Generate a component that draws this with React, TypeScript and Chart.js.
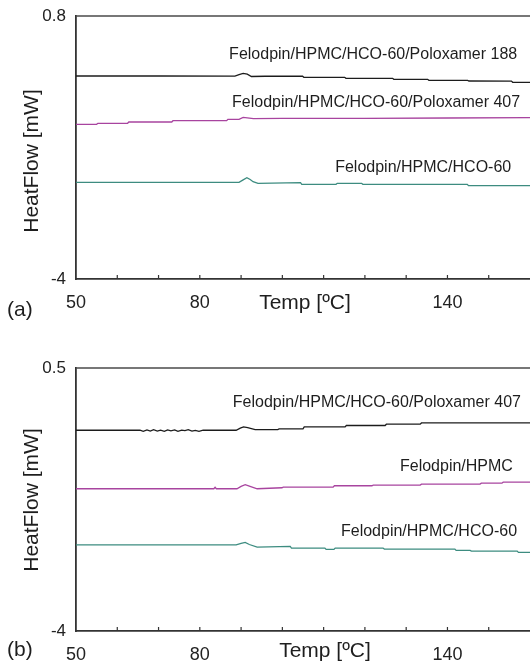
import React, { useEffect, useRef } from 'react';
import { Chart, registerables } from 'chart.js';
Chart.register(...registerables);

const FONT = '"Liberation Sans", Arial, Helvetica, sans-serif';

// ---------- Panel (a) ----------
const tempA188 = [50, 70, 88.5, 89.5, 90.5, 91.5, 92.5, 95.8, 104.9, 105.2, 115.1, 115.4, 126.7, 127, 135.2, 135.5, 144.9, 145.2, 155.5, 155.8, 160];
const flowA188 = [-0.295, -0.295, -0.296, -0.27, -0.249, -0.262, -0.304, -0.3, -0.3, -0.319, -0.319, -0.337, -0.337, -0.355, -0.355, -0.373, -0.375, -0.386, -0.388, -0.41, -0.41];

const tempA407 = [50, 55, 55.3, 62.5, 62.8, 73.2, 73.5, 86.5, 86.8, 89.5, 90.5, 91.5, 93, 100, 120, 140, 160];
const flowA407 = [-1.177, -1.177, -1.158, -1.158, -1.135, -1.135, -1.111, -1.111, -1.085, -1.085, -1.049, -1.06, -1.074, -1.07, -1.067, -1.062, -1.056];

const tempAHco = [50, 89.5, 90.5, 91.4, 92.2, 92.9, 94.1, 104.4, 104.7, 113, 113.3, 119.2, 119.5, 144.8, 145.1, 160];
const flowAHco = [-2.235, -2.235, -2.19, -2.151, -2.185, -2.224, -2.253, -2.242, -2.272, -2.272, -2.253, -2.253, -2.272, -2.272, -2.297, -2.297];

// ---------- Panel (b) ----------
const tempB407 = [50, 65.5, 66.3, 67.2, 68, 68.8, 69.7, 70.5, 71.4, 72.2, 73, 73.9, 74.7, 75.6, 76.4, 77.2, 78.1, 78.9, 79.8, 80.8, 88.8, 89.8, 90.6, 91.6, 93.4, 98.9, 99.2, 105, 105.3, 115.2, 115.5, 124.9, 125.2, 133.4, 133.7, 160];
const flowB407 = [-0.565, -0.565, -0.585, -0.56, -0.58, -0.555, -0.578, -0.562, -0.583, -0.558, -0.575, -0.56, -0.585, -0.563, -0.572, -0.556, -0.58, -0.566, -0.584, -0.565, -0.565, -0.53, -0.508, -0.52, -0.553, -0.553, -0.543, -0.543, -0.508, -0.508, -0.484, -0.484, -0.462, -0.462, -0.44, -0.44];

const tempBHpmc = [50, 83.4, 83.7, 84, 89, 90, 91, 92, 93.9, 99.9, 100.2, 112.3, 112.6, 121.7, 122, 133.4, 133.7, 147.9, 148.2, 153.2, 153.5, 160];
const flowBHpmc = [-1.566, -1.566, -1.54, -1.566, -1.566, -1.525, -1.497, -1.52, -1.566, -1.549, -1.538, -1.538, -1.515, -1.515, -1.504, -1.504, -1.487, -1.487, -1.47, -1.47, -1.453, -1.453];

const tempBHco = [50, 88.8, 90, 91, 92, 93.9, 101.9, 102.2, 110.3, 110.6, 112.5, 112.8, 124.4, 124.7, 141.8, 142.1, 145.5, 145.8, 156.9, 157.2, 160];
const flowBHco = [-2.528, -2.528, -2.5, -2.484, -2.52, -2.564, -2.552, -2.581, -2.581, -2.603, -2.603, -2.581, -2.581, -2.598, -2.598, -2.62, -2.62, -2.632, -2.632, -2.655, -2.655];

const labeledTicks = [50, 80, 140];
const xRange = [50, 160];
const yRangeA = [-4, 0.8];
const yRangeB = [-4, 0.5];

const namesA = ['Felodpin/HPMC/HCO-60/Poloxamer 188', 'Felodpin/HPMC/HCO-60/Poloxamer 407', 'Felodpin/HPMC/HCO-60'];
const namesB = ['Felodpin/HPMC/HCO-60/Poloxamer 407', 'Felodpin/HPMC', 'Felodpin/HPMC/HCO-60'];

const COLORS = ['#1c1c1c', '#a8449f', '#3d8c80'];

const pts = (xs: number[], ys: number[]) => xs.map((x, i) => ({ x, y: ys[i] }));

type PanelCfg = {
  height: number;
  top: number;
  yRange: number[];
  series: { t: number[]; v: number[] }[];
  names: string[];
  notes: { x: number; y: number }[];
  yTitle: [number, number];
  xTitle: [number, number];
  panelLabel: string;
  panelPos: [number, number];
};

const panelA: PanelCfg = {
  height: 331,
  top: 16,
  yRange: yRangeA,
  series: [
    { t: tempA188, v: flowA188 },
    { t: tempA407, v: flowA407 },
    { t: tempAHco, v: flowAHco },
  ],
  names: namesA,
  notes: [
    { x: 87.1, y: 0.088 },
    { x: 87.8, y: -0.788 },
    { x: 112.8, y: -1.974 },
  ],
  yTitle: [32, 161],
  xTitle: [305, 303],
  panelLabel: '(a)',
  panelPos: [7, 310],
};

const panelB: PanelCfg = {
  height: 331,
  top: 37,
  yRange: yRangeB,
  series: [
    { t: tempB407, v: flowB407 },
    { t: tempBHpmc, v: flowBHpmc },
    { t: tempBHco, v: flowBHco },
  ],
  names: namesB,
  notes: [
    { x: 88.0, y: -0.084 },
    { x: 128.5, y: -1.183 },
    { x: 114.2, y: -2.3 },
  ],
  yTitle: [32, 169],
  xTitle: [325, 320],
  panelLabel: '(b)',
  panelPos: [7, 319],
};

function makeDecor(cfg: PanelCfg) {
  return {
    id: 'decor',
    afterDraw(chart: any) {
      const { ctx, chartArea } = chart;
      const x = chart.scales.x;
      const y = chart.scales.y;
      ctx.save();
      ctx.strokeStyle = '#4a4a4a';
      ctx.lineWidth = 1.5;
      ctx.beginPath();
      ctx.moveTo(chartArea.left, chartArea.top);
      ctx.lineTo(chartArea.right, chartArea.top);
      ctx.stroke();
      ctx.strokeStyle = '#333';
      ctx.lineWidth = 1.2;
      ctx.beginPath();
      x.ticks.forEach((t: any) => {
        const px = x.getPixelForValue(t.value);
        if (px <= chartArea.left + 1 || px >= chartArea.right - 1) return;
        ctx.moveTo(px, chartArea.bottom);
        ctx.lineTo(px, chartArea.bottom - 4);
      });
      ctx.stroke();
      ctx.fillStyle = '#1e1e1e';
      ctx.font = `16px ${FONT}`;
      ctx.textAlign = 'left';
      ctx.textBaseline = 'middle';
      cfg.names.forEach((n, i) => {
        const a = cfg.notes[i];
        ctx.fillText(n, x.getPixelForValue(a.x), y.getPixelForValue(a.y));
      });
      ctx.font = `21px ${FONT}`;
      ctx.textAlign = 'center';
      ctx.fillText('Temp [ºC]', cfg.xTitle[0], cfg.xTitle[1]);
      ctx.textAlign = 'left';
      ctx.fillText(cfg.panelLabel, cfg.panelPos[0], cfg.panelPos[1]);
      ctx.translate(cfg.yTitle[0], cfg.yTitle[1]);
      ctx.rotate(-Math.PI / 2);
      ctx.textAlign = 'center';
      ctx.fillText('HeatFlow [mW]', 0, 0);
      ctx.restore();
    },
  };
}

function Panel({ cfg }: { cfg: PanelCfg }) {
  const ref = useRef<HTMLCanvasElement>(null);
  useEffect(() => {
    if (!ref.current) return;
    const chart = new Chart(ref.current, {
      type: 'line',
      data: {
        datasets: cfg.series.map((s, i) => ({
          label: cfg.names[i],
          data: pts(s.t, s.v),
          borderColor: COLORS[i],
          borderWidth: 1.3,
          pointRadius: 0,
          tension: 0,
          fill: false,
        })),
      },
      options: {
        animation: false,
        responsive: false,
        devicePixelRatio: 1,
        layout: { padding: { top: cfg.top, left: 0, right: 0, bottom: 0 } },
        plugins: { legend: { display: false }, tooltip: { enabled: false } },
        scales: {
          x: {
            type: 'linear',
            min: xRange[0],
            max: xRange[1],
            grid: { display: false, drawTicks: false },
            border: { display: true, color: '#333', width: 1.8 },
            ticks: {
              stepSize: 10,
              autoSkip: false,
              maxRotation: 0,
              padding: 13,
              color: '#222',
              font: { size: 18, family: FONT },
              callback: (v: any) => (labeledTicks.includes(Number(v)) ? String(v) : ''),
            },
            afterFit: (s: any) => {
              s.height = cfg.height - cfg.top - 263;
              s.paddingLeft = 0;
              s.paddingRight = 0;
            },
          },
          y: {
            type: 'linear',
            min: cfg.yRange[0],
            max: cfg.yRange[1],
            grid: { display: false, drawTicks: false },
            border: { display: true, color: '#333', width: 1.8 },
            afterBuildTicks: (s: any) => {
              s.ticks = cfg.yRange.map((v) => ({ value: v }));
            },
            ticks: {
              padding: 10,
              color: '#222',
              font: { size: 17, family: FONT },
              callback: (v: any) => String(v),
            },
            afterFit: (s: any) => {
              s.width = 76;
              s.paddingTop = 0;
              s.paddingBottom = 0;
            },
          },
        },
      },
      plugins: [makeDecor(cfg)],
    } as any);
    return () => chart.destroy();
  }, [cfg]);
  return <canvas ref={ref} width={530} height={cfg.height} style={{ display: 'block', width: 530, height: cfg.height }} />;
}

export default function App() {
  return (
    <div style={{ position: 'absolute', left: 0, top: 0, width: 530, height: 662, background: '#fff' }}>
      <Panel cfg={panelA} />
      <Panel cfg={panelB} />
    </div>
  );
}
